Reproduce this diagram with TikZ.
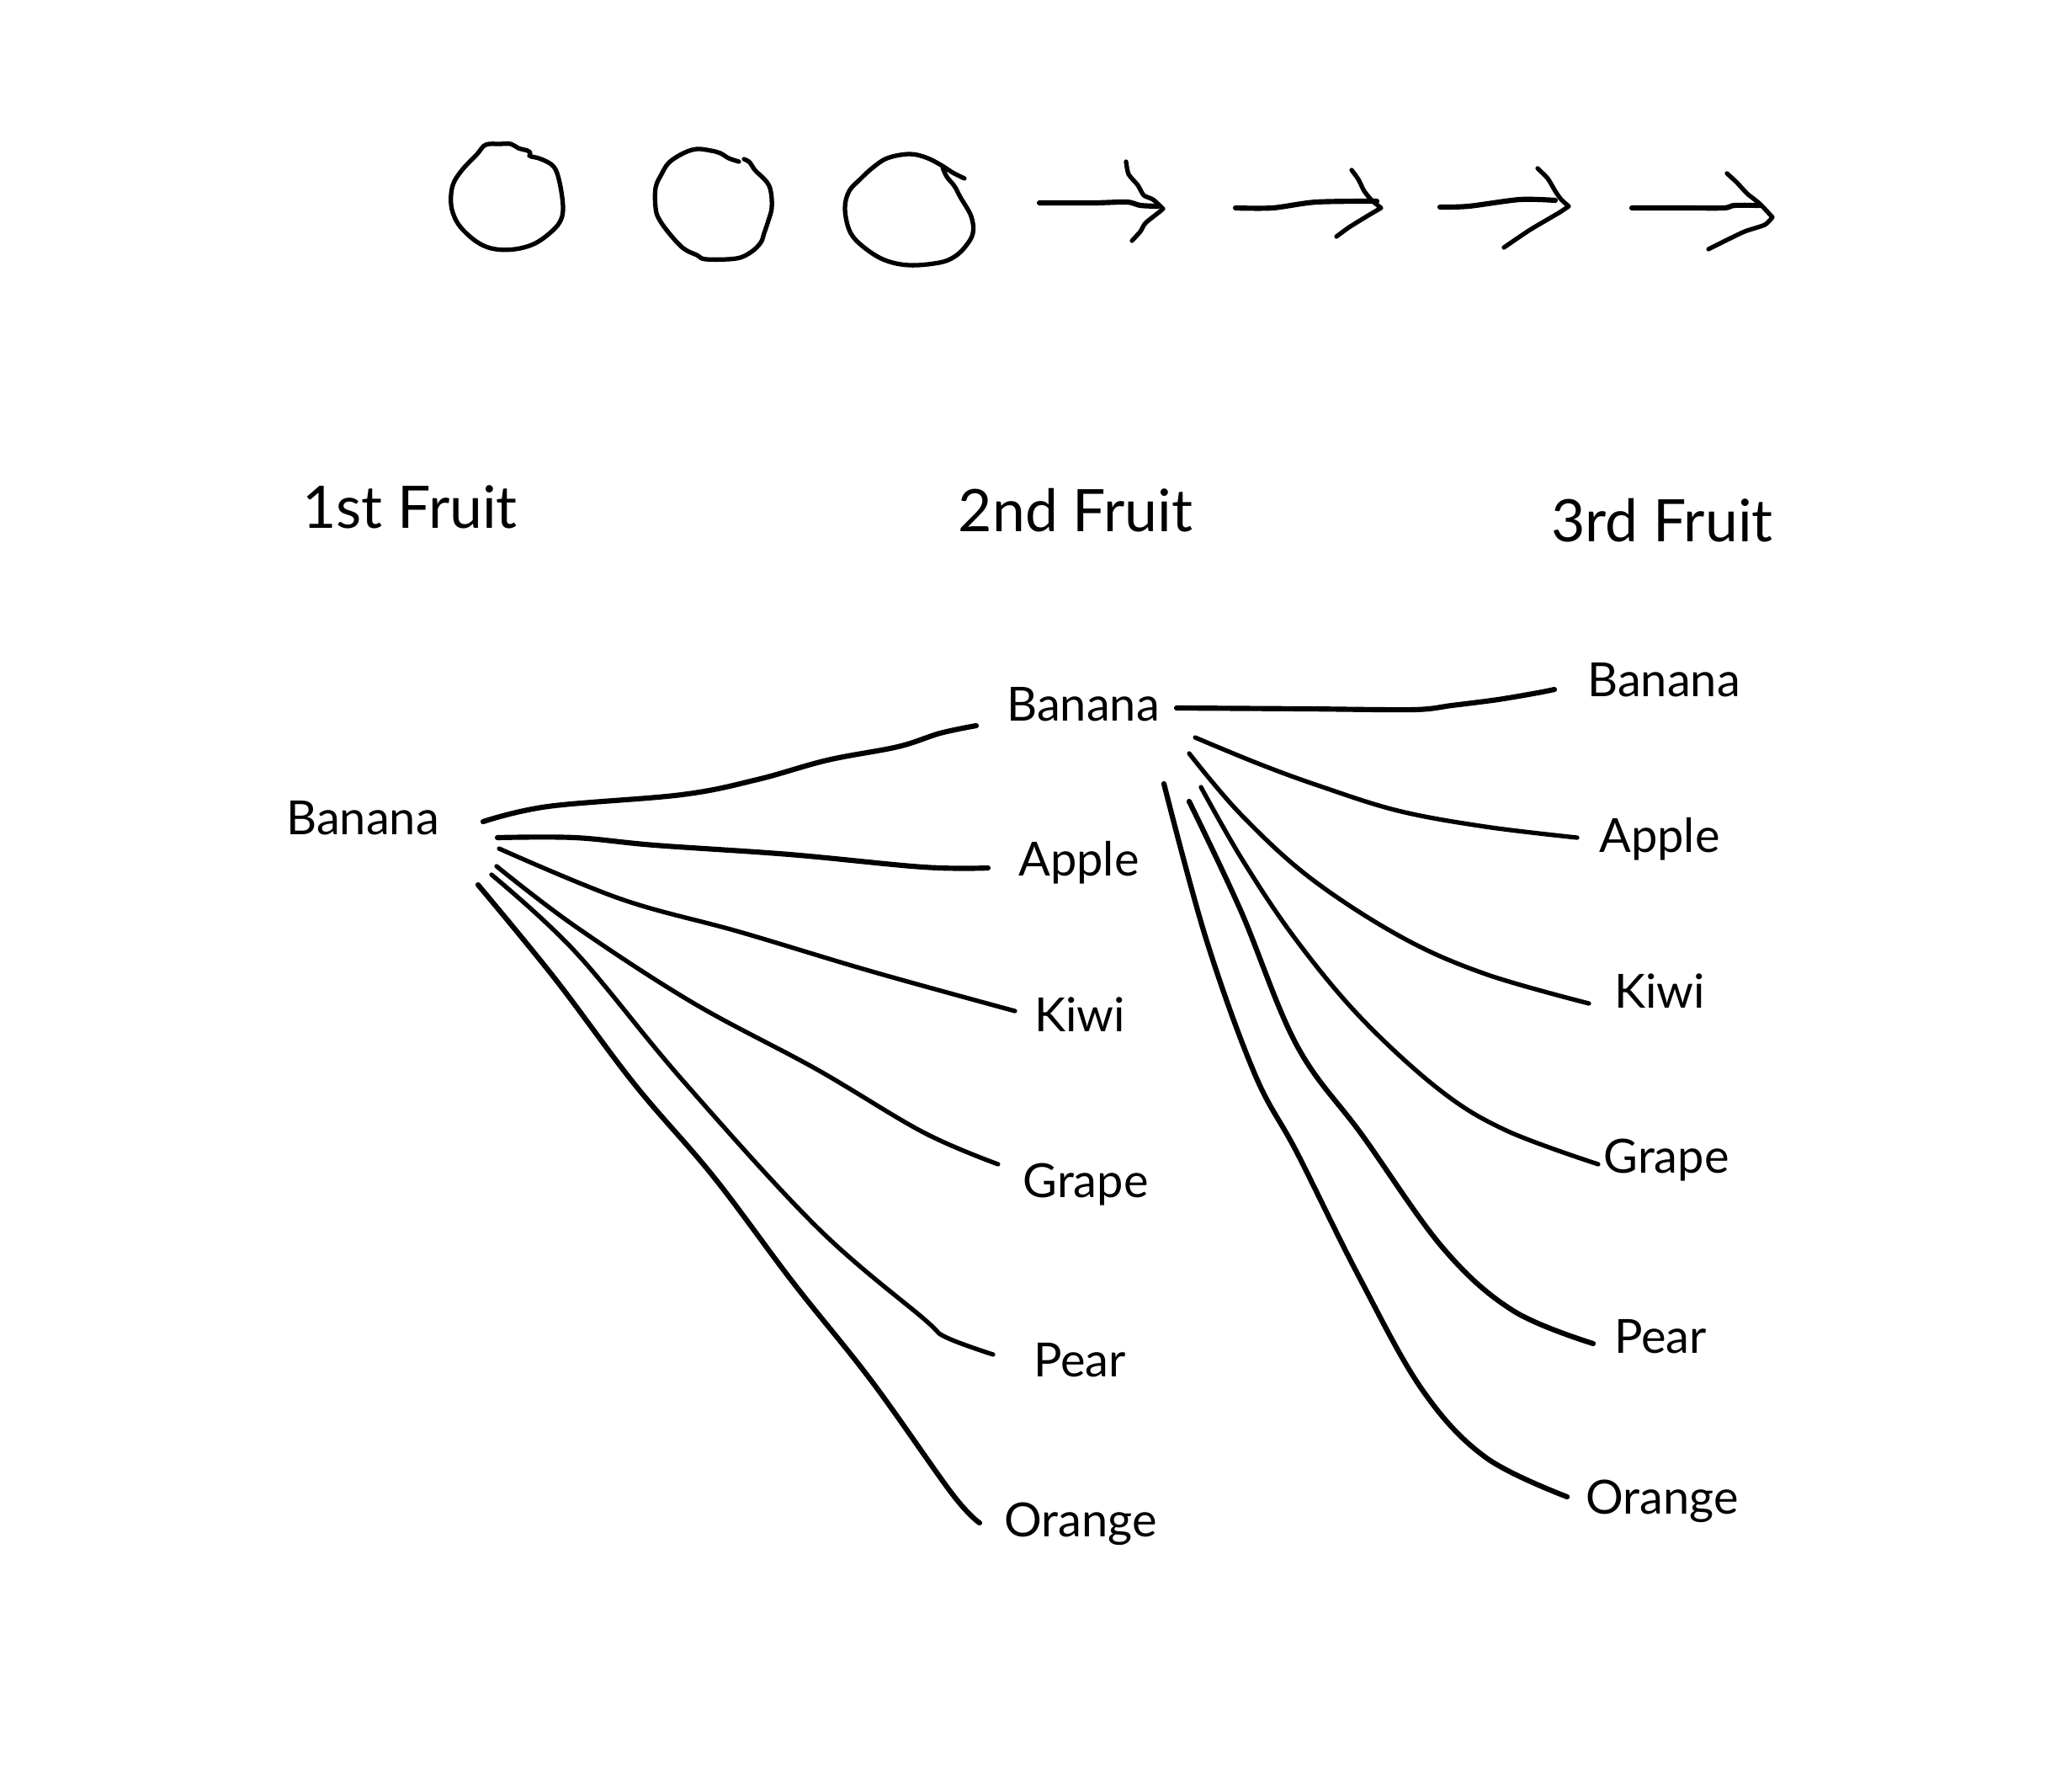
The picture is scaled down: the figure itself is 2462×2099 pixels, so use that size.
\documentclass[tikz,border=0pt]{standalone}
\usepackage{fontspec}
\setmainfont{Lato}
\begin{document}
\begin{tikzpicture}[x=0.01cm,y=-0.01cm,
  ink/.style={line width=1.75pt,line cap=round,line join=round},
  thin ink/.style={line width=1.5pt,line cap=round,line join=round},
  lbl/.style={font=\fontsize{15.9pt}{19pt}\selectfont,inner sep=0pt,anchor=base},
  hdr/.style={font=\fontsize{19.8pt}{24pt}\selectfont,inner sep=0pt,anchor=base}]
\useasboundingbox[fill=white] (0,0) rectangle (2462,2099);

% ---- top doodles: circles ----
\draw[thin ink] plot[smooth,tension=0.6] coordinates {(631,186) (643,189) (658,198) (665,217) (669,247) (665,264) (652,278) (634,290) (612,296) (589,296) (571,290) (554,277) (542,262) (536,243) (538,220) (549,202) (567,183) (577,172) (594,171) (607,171) (616,176) (627,179) (630,182) (629,185)};
\draw[thin ink] plot[smooth,tension=0.6] coordinates {(884,189) (891,193) (897,202) (911,216) (916,228) (917,247) (913,262) (908,277) (904,288) (893,299) (875,307) (839,308) (828,303) (812,295) (795,277) (783,260) (779,247) (779,223) (786,207) (795,193) (812,182) (828,177) (845,179) (856,182) (866,188) (878,192)};
\draw[thin ink] plot[smooth,tension=0.6] coordinates {(1120,199) (1125,210) (1134,221) (1141,234) (1154,257) (1156,277) (1147,293) (1134,305) (1116,312) (1080,315) (1049,308) (1022,290) (1009,273) (1004,247) (1009,227) (1022,213) (1036,200) (1054,188) (1080,183) (1100,187) (1118,196) (1132,205) (1146,212)};

% ---- top doodles: arrows ----
\draw[ink] plot[smooth,tension=0.5] coordinates {(1235,241) (1300,241) (1339,240) (1355,244) (1376,245)};
\draw[thin ink] plot[smooth,tension=0.4] coordinates {(1338,192) (1341,207) (1352,220) (1359,232) (1370,237) (1382,248)}
  -- plot[smooth,tension=0.4] coordinates {(1382,248) (1376,253) (1361,265) (1355,275) (1345,286)};

\draw[ink] plot[smooth,tension=0.5] coordinates {(1468,247) (1512,247) (1564,240) (1636,239)};
\draw[thin ink] plot[smooth,tension=0.4] coordinates {(1606,202) (1614,213) (1621,227) (1630,238) (1641,247)}
  -- plot[smooth,tension=0.4] coordinates {(1641,247) (1624,257) (1603,270) (1588,281)};

\draw[ink] plot[smooth,tension=0.5] coordinates {(1711,246) (1745,245) (1806,237) (1848,238)};
\draw[thin ink] plot[smooth,tension=0.4] coordinates {(1827,200) (1839,212) (1848,227) (1855,237) (1864,245)}
  -- plot[smooth,tension=0.4] coordinates {(1864,245) (1852,253) (1818,273) (1787,294)};

\draw[ink] plot[smooth,tension=0.5] coordinates {(1939,247) (2000,247) (2048,247) (2061,244) (2091,244)};
\draw[thin ink] plot[smooth,tension=0.4] coordinates {(2052,206) (2064,217) (2076,230) (2091,242) (2106,258)}
  -- plot[smooth,tension=0.4] coordinates {(2106,258) (2097,267) (2073,275) (2048,287) (2030,296)};

% ---- headers ----
\node[hdr] (h1) at (487,627) {1st Fruit};
\node[hdr] (h2) at (1278,631) {2nd Fruit};
\node[hdr] (h3) at (1975,643) {3rd Fruit};

% ---- first fruit ----
\node[lbl] (lb) at (431,991) {Banana};

% ---- second fruit ----
\node[lbl] (m1) at (1287,856) {Banana};
\node[lbl] (m2) at (1282,1040) {Apple};
\node[lbl] (m3) at (1283,1225) {Kiwi};
\node[lbl] (m4) at (1290,1422) {Grape};
\node[lbl] (m5) at (1283,1635) {Pear};
\node[lbl] (m6) at (1284,1825) {Orange};

% ---- third fruit ----
\node[lbl] (r1) at (1977,827) {Banana};
\node[lbl] (r2) at (1972,1012) {Apple};
\node[lbl] (r3) at (1972,1197) {Kiwi};
\node[lbl] (r4) at (1980,1393) {Grape};
\node[lbl] (r5) at (1973,1607) {Pear};
\node[lbl] (r6) at (1975,1798) {Orange};

% ---- connectors: first -> second ----
\draw[ink] plot[smooth,tension=0.6] coordinates {([shift={(143,-15)}]lb.base) (651,958) (810,944) (900,926) (983,903) (1067,887) (1117,871) ([shift={(-127,6)}]m1.base)};
\draw[ink] plot[smooth,tension=0.6] coordinates {([shift={(160,4)}]lb.base) (683,995) (778,1004) (938,1015) (1097,1030) ([shift={(-108,-9)}]m2.base)};
\draw[thin ink] plot[smooth,tension=0.6] coordinates {([shift={(162,17)}]lb.base) (738,1068) (879,1107) (1036,1154) ([shift={(-77,-24)}]m3.base)};
\draw[thin ink] plot[smooth,tension=0.6] coordinates {([shift={(159,38)}]lb.base) (683,1100) (823,1191) (970,1270) (1097,1345) ([shift={(-104,-39)}]m4.base)};
\draw[thin ink] plot[smooth,tension=0.6] coordinates {([shift={(153,48)}]lb.base) (683,1130) (810,1282) (970,1457) (1097,1566) (1123,1588) ([shift={(-103,-26)}]m5.base)};
\draw[ink] plot[smooth,tension=0.6] coordinates {([shift={(137,60)}]lb.base) (659,1162) (754,1288) (848,1398) (942,1523) (1036,1641) (1131,1774) ([shift={(-120,-16)}]m6.base)};

% ---- connectors: second -> third ----
\draw[ink] plot[smooth,tension=0.5] coordinates {([shift={(111,-15)}]m1.base) (1550,842) (1680,843) (1725,838) (1780,831) (1827,823) ([shift={(-130,-8)}]r1.base)};
\draw[thin ink] plot[smooth,tension=0.6] coordinates {([shift={(133,20)}]m1.base) (1495,907) (1566,933) (1661,963) (1765,982) ([shift={(-98,-17)}]r2.base)};
\draw[thin ink] plot[smooth,tension=0.6] coordinates {([shift={(126,39)}]m1.base) (1474,967) (1557,1043) (1665,1113) (1765,1157) ([shift={(-84,-5)}]r3.base)};
\draw[thin ink] plot[smooth,tension=0.6] coordinates {([shift={(140,79)}]m1.base) (1476,1021) (1539,1115) (1617,1209) (1711,1295) (1790,1343) ([shift={(-81,-10)}]r4.base)};
\draw[ink] plot[smooth,tension=0.6] coordinates {([shift={(126,96)}]m1.base) (1474,1081) (1541,1242) (1619,1349) (1715,1483) (1798,1557) ([shift={(-80,-11)}]r5.base)};
\draw[ink] plot[smooth,tension=0.6] coordinates {([shift={(96,75)}]m1.base) (1433,1115) (1491,1276) (1541,1369) (1615,1517) (1690,1651) (1765,1731) ([shift={(-113,-20)}]r6.base)};
\end{tikzpicture}
\end{document}
